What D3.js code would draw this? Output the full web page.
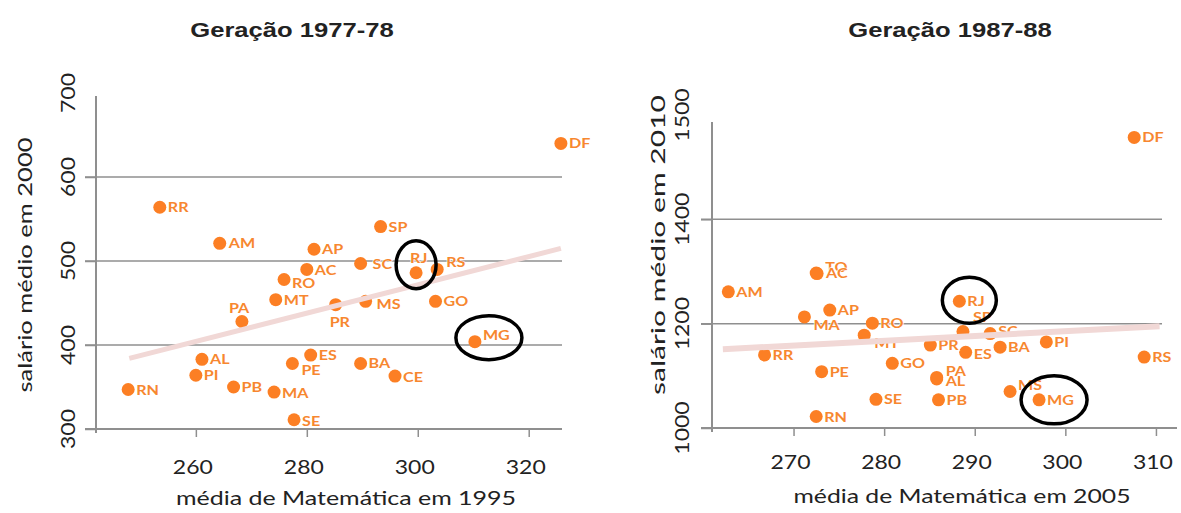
<!DOCTYPE html>
<html><head><meta charset="utf-8">
<script src="https://cdn.jsdelivr.net/npm/d3@7"></script>
<style>
html,body{margin:0;padding:0;background:#fff;}
svg{display:block;}
</style></head>
<body>
<svg id="c" width="1181" height="513"></svg>
<script>
// ---------- DATA ----------
// Panel 1: Geração 1977-78
const states1995 = ["DF","RR","AM","AP","AC","RO","MT","PA","PR","AL","PI","RN","PB","MA","ES","PE","SE","SP","SC","RJ","RS","GO","MS","BA","CE","MG"];
const math1995   = [325.8,253.5,264.3,281.3,280.0,275.9,274.4,268.3,285.2,261.1,260.0,247.8,266.8,274.1,280.7,277.4,277.7,293.3,289.7,299.7,303.5,303.2,290.6,289.7,295.9,310.3];
const salary2000 = [640,564,521,514,490,478,454,428,448,383,364,347,350,344,388,378,311,541,497,486,490,452,452,378,363,404];
const trendMath1995 = [248, 325.8];
const trendSalary2000 = [384, 515];
const xTicks1995 = [260,280,300,320];
const yTicks2000 = [300,400,500,600,700];
const yTickLabels2000 = ["300","400","500","600","700"];

// Panel 2: Geração 1987-88
const states2005 = ["DF","AM","TO","AC","AP","MA","RO","MT","RR","PE","RN","GO","SE","RJ","SP","SC","PR","ES","BA","PI","RS","PA","AL","PB","MS","MG"];
const math2005   = [307.6,262.8,272.5,272.6,274.0,271.2,278.7,277.8,266.8,273.1,272.5,280.9,279.1,288.3,288.7,291.7,285.1,289.0,292.8,297.9,308.7,285.8,285.8,286.0,293.9,297.1];
const salary2010 = [1557,1261,1297,1296,1226,1213,1201,1178,1140,1108,1022,1124,1055,1243,1185,1181,1159,1145,1155,1165,1136,1097,1094,1054,1070,1054];
const trendMath2005 = [262.2, 310.4];
const trendSalary2010 = [1151, 1195];
const xTicks2005 = [270,280,290,300,310];
const yTicks2010 = [1000,1200,1400,1600];
const yTickLabels2010 = ["1000","1200","1400","1500"];

const highlighted = ["RJ","MG"];

// ---------- LAYOUT (not data) ----------
const labelOffsets1 = {
  PA:[-13,-8], RJ:[-6,-10], PR:[-6,22], RO:[8,9], PE:[9,12], RS:[9,-2], MS:[11,8],
  MG:[8,-2], AC:[8,6], SC:[12,5], CE:[8,6], SE:[8,6], MA:[8,6], AM:[9,5]
};
const labelOffsets2 = {
  TO:[9,-1], AC:[9,4], MA:[9,13], MT:[10,13], SP:[10,-9], SC:[8,2], ES:[8,7],
  PA:[9,-1], AL:[9,7], MS:[8,-1]
};
const ellipse1 = {RJ:{dx:0,dy:-8,rx:20,ry:24}, MG:{dx:14,dy:-4,rx:33,ry:22}};
const ellipse2 = {RJ:{dx:10,dy:-1,rx:27,ry:23}, MG:{dx:15,dy:0,rx:33,ry:24}};

const DOT = "#fc7f24", LABEL = "#f7872f", GRID = "#8f8f8f", TREND = "#f1d8d6";
const svg = d3.select("#c");

function panel(cfg){
  const g = svg.append("g");
  const x = d3.scaleLinear().domain(cfg.xDomain).range(cfg.xRange);
  const y = d3.scaleLinear().domain(cfg.yDomain).range(cfg.yRange);

  // gridlines at interior y ticks
  const gridVals = cfg.yTicks.filter(v => v > cfg.yDomain[0] && v < cfg.yDomain[1]);
  g.selectAll(".grid").data(gridVals).join("line")
    .attr("x1", cfg.xRange[0]-11).attr("x2", cfg.gridEnd)
    .attr("y1", d=>y(d)).attr("y2", d=>y(d))
    .attr("stroke", GRID).attr("stroke-width", 1.5);

  // y axis via d3.axisLeft
  const yAxis = d3.axisLeft(y).tickValues(cfg.yTicks.filter(v=>v<cfg.yDomain[1]))
    .tickSize(11).tickFormat("");
  const ya = g.append("g").attr("transform",`translate(${cfg.xRange[0]},0)`).call(yAxis);
  ya.select(".domain").remove();
  ya.selectAll("line").attr("stroke", GRID).attr("stroke-width",1.5);
  g.append("line").attr("x1",cfg.xRange[0]).attr("x2",cfg.xRange[0])
    .attr("y1",cfg.yAxisTop).attr("y2",cfg.yRange[0]+4)
    .attr("stroke",GRID).attr("stroke-width",2);

  // x axis
  const xAxis = d3.axisBottom(x).tickValues(cfg.xTicks).tickSize(8).tickFormat("");
  const xa = g.append("g").attr("transform",`translate(0,${cfg.yRange[0]})`).call(xAxis);
  xa.select(".domain").remove();
  xa.selectAll("line").attr("stroke", GRID).attr("stroke-width",1.5);
  g.append("line").attr("x1",cfg.xRange[0]-11).attr("x2",cfg.xAxisEnd)
    .attr("y1",cfg.yRange[0]).attr("y2",cfg.yRange[0])
    .attr("stroke",GRID).attr("stroke-width",2);

  // tick labels
  g.selectAll(".xt").data(cfg.xTicks).join("text")
    .attr("transform", d=>`translate(${x(d)-3},${cfg.xTickY}) scale(1.15,1)`)
    .attr("text-anchor","middle")
    .style("font-family","Lato, 'Open Sans', sans-serif").style("font-size","20px").attr("fill","#222")
    .text(d=>d);
  g.selectAll(".yt").data(cfg.yTicks).join("text")
    .attr("transform", (d,i)=>`translate(${cfg.yTickX},${y(d)}) rotate(-90) scale(1.15,1)`)
    .attr("text-anchor","middle")
    .style("font-family","Lato, 'Open Sans', sans-serif").style("font-size","20px").attr("fill","#222")
    .text((d,i)=>cfg.yTickLabels[i]);

  // axis titles
  g.append("text").attr("x", cfg.xTitleX).attr("y", cfg.xTitleY).attr("text-anchor","middle")
    .attr("textLength", cfg.xTitleLen).attr("lengthAdjust","spacingAndGlyphs")
    .style("font-family","Lato, 'Open Sans', sans-serif").style("font-size","20px").attr("fill","#222")
    .text(cfg.xTitle);
  g.append("text").attr("transform",`translate(${cfg.yTitleX},${cfg.yTitleY}) rotate(-90)`)
    .attr("text-anchor","middle")
    .attr("textLength", cfg.yTitleLen).attr("lengthAdjust","spacingAndGlyphs")
    .style("font-family","Lato, 'Open Sans', sans-serif").style("font-size","20px").attr("fill","#222")
    .text(cfg.yTitle);

  // chart title
  g.append("text").attr("transform",`translate(${cfg.titleX},37) scale(1.22,1)`)
    .attr("text-anchor","middle")
    .style("font-family","'Liberation Sans', Arial, sans-serif").style("font-size","21px")
    .style("font-weight","bold").attr("fill","#222").text(cfg.title);

  const pts = cfg.states.map((s,i)=>({s, x:cfg.xs[i], y:cfg.ys[i]}));

  // dots
  g.selectAll(".dot").data(pts).join("circle")
    .attr("cx", d=>x(d.x)).attr("cy", d=>y(d.y)).attr("r", 6.5).attr("fill", DOT);
  // labels
  g.selectAll(".lab").data(pts).join("text")
    .attr("transform", d=>{
      const o = cfg.offsets[d.s] || [8,5];
      return `translate(${x(d.x)+o[0]},${y(d.y)+o[1]}) scale(1.15,1)`;
    })
    .style("font-family","Lato, 'Open Sans', sans-serif").style("font-size","14px").style("font-weight","bold")
    .attr("fill", LABEL).attr("stroke","#fff").attr("stroke-width",1.6).attr("paint-order","stroke")
    .attr("stroke-opacity",0.8)
    .text(d=>d.s);

  // trend line
  g.append("line")
    .attr("x1", x(cfg.trendX[0])).attr("y1", y(cfg.trendY[0]))
    .attr("x2", x(cfg.trendX[1])).attr("y2", y(cfg.trendY[1]))
    .attr("stroke", TREND).attr("stroke-width", cfg.trendW);

  // highlight ellipses
  pts.filter(d=>highlighted.includes(d.s)).forEach(d=>{
    const e = cfg.ellipses[d.s];
    g.append("ellipse").attr("cx", x(d.x)+e.dx).attr("cy", y(d.y)+e.dy)
      .attr("rx", e.rx).attr("ry", e.ry).attr("fill","none")
      .attr("stroke","#000").attr("stroke-width",3.5);
  });
}

panel({
  title:"Geração 1977-78", titleX:292,
  states:states1995, xs:math1995, ys:salary2000,
  xDomain:[242,326], xRange:[96,562], yDomain:[300,700], yRange:[429,93],
  xTicks:xTicks1995, yTicks:yTicks2000, yTickLabels:yTickLabels2000,
  gridEnd:562, xAxisEnd:562, yAxisTop:96,
  xTickY:474, yTickX:75,
  xTitle:"média de Matemática em 1995", xTitleX:346, xTitleY:505, xTitleLen:340,
  yTitle:"salário médio em 2000", yTitleX:32, yTitleY:265, yTitleLen:255,
  trendX:trendMath1995, trendY:trendSalary2000, trendW:5,
  offsets:labelOffsets1, ellipses:ellipse1
});
panel({
  title:"Geração 1987-88", titleX:950,
  states:states2005, xs:math2005, ys:salary2010,
  xDomain:[261,311], xRange:[712,1165], yDomain:[1000,1600], yRange:[428,115],
  xTicks:xTicks2005, yTicks:yTicks2010, yTickLabels:yTickLabels2010,
  gridEnd:1162, xAxisEnd:1177, yAxisTop:122,
  xTickY:469, yTickX:689,
  xTitle:"média de Matemática em 2005", xTitleX:962, xTitleY:503, xTitleLen:337,
  yTitle:"salário médio em 2010", yTitleX:665, yTitleY:245, yTitleLen:300,
  trendX:trendMath2005, trendY:trendSalary2010, trendW:6,
  offsets:labelOffsets2, ellipses:ellipse2
});
</script>
</body></html>
